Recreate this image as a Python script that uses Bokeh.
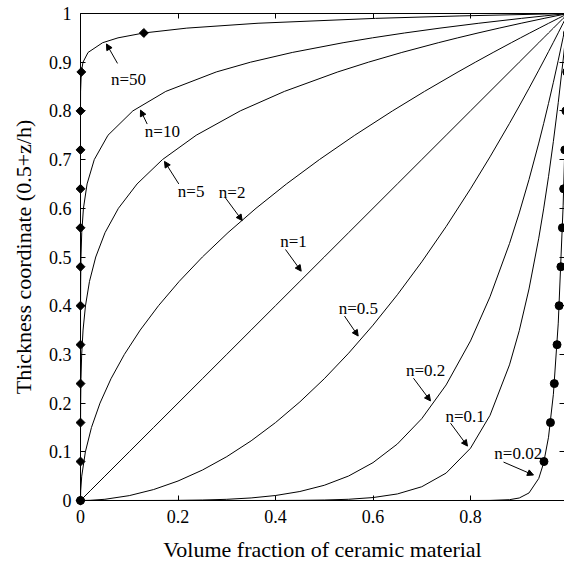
from bokeh.plotting import figure
from bokeh.models import Range1d, LinearAxis, FixedTicker, Arrow, NormalHead, ColumnDataSource
from bokeh.core.properties import value
from bokeh.embed import file_html
from bokeh.resources import INLINE

# ---------------- data ----------------
# parameter grid along each curve (thickness coordinate / volume fraction)
t = [0, 0.02, 0.05, 0.1, 0.15, 0.2, 0.25, 0.3, 0.35, 0.4, 0.45, 0.5, 0.55, 0.6, 0.65,
     0.7, 0.75, 0.8, 0.84, 0.88, 0.9, 0.92, 0.94, 0.95, 0.96, 0.97, 0.98, 0.99, 0.995, 1.0]
t_pow2 = [0, 0.0004, 0.0025, 0.01, 0.0225, 0.04, 0.0625, 0.09, 0.1225, 0.16, 0.2025, 0.25,
          0.3025, 0.36, 0.4225, 0.49, 0.5625, 0.64, 0.7056, 0.7744, 0.81, 0.8464, 0.8836,
          0.9025, 0.9216, 0.9409, 0.9604, 0.9801, 0.990025, 1.0]
t_pow5 = [0, 0.0000000032, 0.0000003, 0.00001, 0.0000759, 0.00032, 0.000977, 0.00243,
          0.005252, 0.01024, 0.018453, 0.03125, 0.050328, 0.07776, 0.116029, 0.16807,
          0.237305, 0.32768, 0.418212, 0.527732, 0.59049, 0.659082, 0.733904, 0.773781,
          0.815373, 0.858734, 0.903921, 0.95099, 0.975249, 1.0]
t_pow10 = [0, 0, 0, 0.0000000001, 0.0000000058, 0.0000001, 0.00000095, 0.0000059,
           0.0000276, 0.000105, 0.000341, 0.000977, 0.002533, 0.006047, 0.013463,
           0.028248, 0.056314, 0.107374, 0.174901, 0.278501, 0.348678, 0.434389,
           0.538615, 0.598737, 0.664833, 0.737424, 0.817073, 0.904382, 0.951111, 1.0]
t_pow50 = [0, 0, 0, 0, 0, 0, 0, 0, 0, 0, 0, 0, 0, 0, 0, 0, 0,
           0.0000143, 0.000164, 0.001676, 0.005154, 0.015467, 0.045331, 0.076945,
           0.129886, 0.218065, 0.36417, 0.605006, 0.778317, 1.0]

# marked points on the n=50 (diamonds) and n=0.02 (circles) curves
marker_y = [0, 0.08, 0.16, 0.24, 0.32, 0.40, 0.48, 0.56, 0.64, 0.72, 0.80, 0.88, 0.96]
diamond_x = [0, 0, 0, 0, 0, 0, 0, 0, 0, 0, 0.0000143, 0.00168, 0.1299]
circle_x = [0, 0.9507, 0.9640, 0.9719, 0.9775, 0.9818, 0.9854, 0.9885, 0.9911,
            0.9935, 0.9956, 0.9975, 0.9992]

# curve labels and their arrows
label_text = ["n=50", "n=10", "n=5", "n=2", "n=1", "n=0.5", "n=0.2", "n=0.1", "n=0.02"]
label_x = [0.0985, 0.168, 0.227, 0.311, 0.437, 0.570, 0.708, 0.789, 0.898]
label_y = [0.865, 0.757, 0.635, 0.632, 0.531, 0.394, 0.266, 0.173, 0.097]
arrow_x0 = [0.0759, 0.1368, 0.2016, 0.2974, 0.4205, 0.5415, 0.6831, 0.7590, 0.8677]
arrow_y0 = [0.8975, 0.7730, 0.6500, 0.6213, 0.5154, 0.3787, 0.2510, 0.1588, 0.0789]
arrow_x1 = [0.0533, 0.1231, 0.1723, 0.3317, 0.4527, 0.5696, 0.7179, 0.7938, 0.9292]
arrow_y1 = [0.9375, 0.8016, 0.6963, 0.5748, 0.4709, 0.3377, 0.2045, 0.1117, 0.0523]

x_ticks = [0, 0.2, 0.4, 0.6, 0.8]
x_tick_labels = ["0", "0.2", "0.4", "0.6", "0.8"]
y_ticks = [0, 0.1, 0.2, 0.3, 0.4, 0.5, 0.6, 0.7, 0.8, 0.9, 1.0]
y_tick_labels = ["0", "0.1", "0.2", "0.3", "0.4", "0.5", "0.6", "0.7", "0.8", "0.9", "1"]

FONT = "Liberation Serif"

p = figure(width=564, height=564, x_range=Range1d(0, 0.9928), y_range=Range1d(0, 1),
           output_backend="svg", toolbar_location=None,
           min_border_left=80, min_border_right=0, min_border_top=13, min_border_bottom=63)
p.xgrid.visible = False
p.ygrid.visible = False
p.outline_line_color = None
p.background_fill_color = "white"
p.border_fill_color = "white"

# curves: n>=1 -> x = t^n, y = t ; n<1 -> x = t, y = t^(1/n)
curves = [
    (t, t),            # n=1
    (t_pow2, t),       # n=2
    (t_pow5, t),       # n=5
    (t_pow10, t),      # n=10
    (t_pow50, t),      # n=50
    (t, t_pow2),       # n=0.5
    (t, t_pow5),       # n=0.2
    (t, t_pow10),      # n=0.1
    (t, t_pow50),      # n=0.02
]
for xs, ys in curves:
    p.line(xs, ys, line_color="black", line_width=1)

d = p.scatter(diamond_x, marker_y, marker="square", angle=0.7853981634, size=6.3,
              fill_color="black", line_color="black")
c = p.scatter(circle_x, marker_y, marker="circle", size=8,
              fill_color="black", line_color="black")
d.level = "overlay"
c.level = "overlay"

p.text(label_x, label_y, text=label_text, text_font=value(FONT), text_font_size="17px",
       text_align="center", text_baseline="middle", text_color="black")

asrc = ColumnDataSource(dict(x0=arrow_x0, y0=arrow_y0, x1=arrow_x1, y1=arrow_y1))
p.add_layout(Arrow(end=NormalHead(size=6, fill_color="black", line_color="black", line_width=1),
                   x_start="x0", y_start="y0", x_end="x1", y_end="y1", source=asrc,
                   line_color="black", line_width=1))

def style_axis(ax, ticks, labels, show_labels=True, show_line=True):
    ax.ticker = FixedTicker(ticks=ticks)
    ax.major_label_overrides = {tk: lb for tk, lb in zip(ticks, labels)}
    ax.major_tick_in = 5
    ax.major_tick_out = 0
    ax.minor_tick_in = 0
    ax.minor_tick_out = 0
    ax.major_tick_line_color = "black"
    ax.axis_line_color = "black" if show_line else None
    ax.major_label_text_font = FONT
    if show_labels:
        ax.major_label_text_color = "black"
        ax.major_label_text_font_size = "18px"
        ax.major_label_standoff = 9
    else:
        ax.major_label_text_color = None
        ax.major_label_text_font_size = "1px"
        ax.major_label_standoff = 0

style_axis(p.xaxis[0], x_ticks, x_tick_labels)
style_axis(p.yaxis[0], y_ticks, y_tick_labels)
p.xaxis[0].axis_label = "Volume fraction of ceramic material"
p.yaxis[0].axis_label = "Thickness coordinate (0.5+z/h)"
for ax in (p.xaxis[0], p.yaxis[0]):
    ax.axis_label_text_font = FONT
    ax.axis_label_text_font_style = "normal"
    ax.axis_label_text_font_size = "22px"
    ax.axis_label_text_color = "black"
p.xaxis[0].axis_label_standoff = 11
p.yaxis[0].axis_label_standoff = 10

top = LinearAxis()
style_axis(top, x_ticks, x_tick_labels, show_labels=False)
p.add_layout(top, "above")
right = LinearAxis()
style_axis(right, y_ticks, y_tick_labels, show_labels=False, show_line=False)
p.add_layout(right, "right")

open("out.html", "w").write(file_html(p, INLINE))
